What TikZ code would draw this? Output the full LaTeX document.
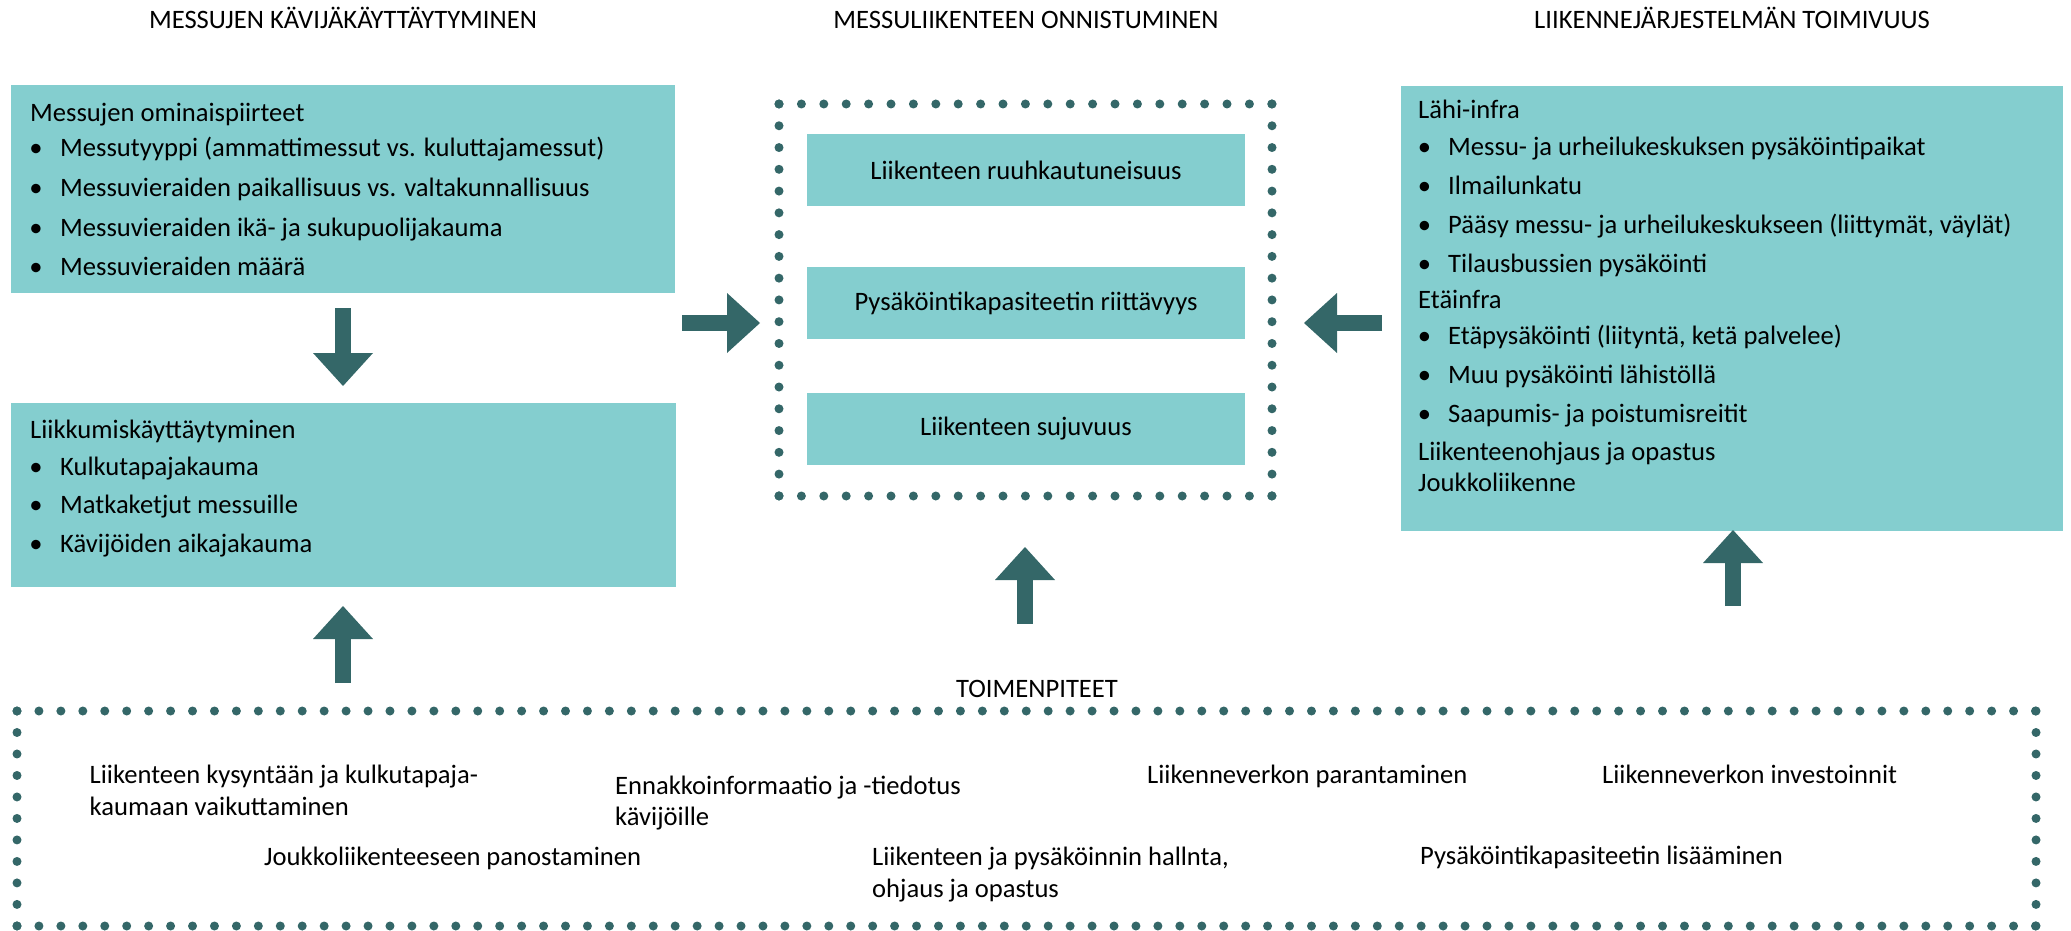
\documentclass[tikz,border=0pt]{standalone}
\usepackage{fontspec}
\setmainfont{Carlito}
\usetikzlibrary{arrows.meta}
\definecolor{boxfill}{RGB}{132,206,207}
\definecolor{dark}{RGB}{52,103,104}
\begin{document}
\begin{tikzpicture}[x=1pt,y=-1pt,
  tx/.style={font=\fontsize{26.6}{31}\selectfont, inner sep=0pt, anchor=base west},
  ttl/.style={font=\fontsize{26.6}{31}\selectfont, inner sep=0pt, anchor=base},
  bul/.style={font=\fontsize{26.6}{31}\selectfont, inner sep=0pt, anchor=base},
  box/.style={fill=boxfill, draw=none, inner sep=0pt, anchor=north west},
  cbox/.style={fill=boxfill, draw=none, inner sep=0pt, minimum width=438pt, minimum height=72pt, font=\fontsize{26.6}{31}\selectfont},
  blockarrow/.style={draw=dark, line width=16pt, -{Triangle[width=60pt,length=33pt,line width=0pt]}},
  dots/.style={draw=dark, line width=9pt, line cap=round}]
\useasboundingbox (0,0) rectangle (2071,931);

% titles
\node[ttl] (h1) at (343,29) {MESSUJEN KÄVIJÄKÄYTTÄYTYMINEN};
\node[ttl] (h2) at (1026,29) {MESSULIIKENTEEN ONNISTUMINEN};
\node[ttl] (h3) at (1732,29) {LIIKENNEJÄRJESTELMÄN TOIMIVUUS};
\node[ttl] (h4) at (1037,697) {TOIMENPITEET};

% boxes
\node[box, minimum width=664pt, minimum height=208pt] (b1) at (11,85) {};
\node[box, minimum width=665pt, minimum height=184pt] (b2) at (11,403) {};
\node[box, minimum width=662pt, minimum height=445pt] (b3) at (1401,86) {};

% box 1 text
\node[tx] (b1h) at (30,122) {Messujen ominaispiirteet};
\node[bul] (b1d1) at (36,157) {•};   \node[tx] (b1t1) at (60,157) {Messutyyppi (ammattimessut vs. kuluttajamessut)};
\node[bul] (b1d2) at (36,196.5) {•}; \node[tx] (b1t2) at (60,196.5) {Messuvieraiden paikallisuus vs. valtakunnallisuus};
\node[bul] (b1d3) at (36,236) {•};   \node[tx] (b1t3) at (60,236) {Messuvieraiden ikä- ja sukupuolijakauma};
\node[bul] (b1d4) at (36,275.5) {•}; \node[tx] (b1t4) at (60,275.5) {Messuvieraiden määrä};

% box 2 text
\node[tx] (b2h) at (30,438.5) {Liikkumiskäyttäytyminen};
\node[bul] (b2d1) at (36,475) {•};   \node[tx] (b2t1) at (60,475) {Kulkutapajakauma};
\node[bul] (b2d2) at (36,513.5) {•}; \node[tx] (b2t2) at (60,513.5) {Matkaketjut messuille};
\node[bul] (b2d3) at (36,552.5) {•}; \node[tx] (b2t3) at (60,552.5) {Kävijöiden aikajakauma};

% box 3 text
\node[tx] (b3h1) at (1418,118) {Lähi-infra};
\node[bul] (b3d1) at (1424.5,155) {•};   \node[tx] (b3t1) at (1448,155) {Messu- ja urheilukeskuksen pysäköintipaikat};
\node[bul] (b3d2) at (1424.5,194.5) {•}; \node[tx] (b3t2) at (1448,194.5) {Ilmailunkatu};
\node[bul] (b3d3) at (1424.5,233.5) {•}; \node[tx] (b3t3) at (1448,233.5) {Pääsy messu- ja urheilukeskukseen (liittymät, väylät)};
\node[bul] (b3d4) at (1424.5,272.5) {•}; \node[tx] (b3t4) at (1448,272.5) {Tilausbussien pysäköinti};
\node[tx] (b3h2) at (1418,308.5) {Etäinfra};
\node[bul] (b3d5) at (1424.5,344.5) {•}; \node[tx] (b3t5) at (1448,344.5) {Etäpysäköinti (liityntä, ketä palvelee)};
\node[bul] (b3d6) at (1424.5,383.5) {•}; \node[tx] (b3t6) at (1448,383.5) {Muu pysäköinti lähistöllä};
\node[bul] (b3d7) at (1424.5,422.5) {•}; \node[tx] (b3t7) at (1448,422.5) {Saapumis- ja poistumisreitit};
\node[tx] (b3h3) at (1418,460) {Liikenteenohjaus ja opastus};
\node[tx] (b3h4) at (1418,491) {Joukkoliikenne};

% centre boxes
\node[cbox] (c1) at (1026,170) {Liikenteen ruuhkautuneisuus};
\node[cbox] (c2) at (1026,303) {Pysäköintikapasiteetin riittävyys};
\node[cbox] (c3) at (1026,429) {Liikenteen sujuvuus};

% dotted frame, centre
\coordinate (m1) at (779,104);
\coordinate (m2) at (1272,104);
\coordinate (m3) at (1272,496);
\coordinate (m4) at (779,496);
\draw[dots, dash pattern=on 0pt off 22.40pt] (m1) -- (m2);
\draw[dots, dash pattern=on 0pt off 22.40pt] (m4) -- (m3);
\draw[dots, dash pattern=on 0pt off 21.77pt] (m1) -- (m4);
\draw[dots, dash pattern=on 0pt off 21.77pt] (m2) -- (m3);

% dotted frame, bottom
\coordinate (n1) at (17,711);
\coordinate (n2) at (2036,711);
\coordinate (n3) at (2036,926);
\coordinate (n4) at (17,926);
\draw[dots, dash pattern=on 0pt off 21.94pt] (n1) -- (n2);
\draw[dots, dash pattern=on 0pt off 21.94pt] (n4) -- (n3);
\draw[dots, dash pattern=on 0pt off 21.49pt] (n1) -- (n4);
\draw[dots, dash pattern=on 0pt off 21.49pt] (n2) -- (n3);

% bottom texts
\node[tx] (p1a) at (89.5,783) {Liikenteen kysyntään ja kulkutapaja-};
\node[tx] (p1b) at (89.5,815) {kaumaan vaikuttaminen};
\node[tx] (p2a) at (615,794) {Ennakkoinformaatio ja -tiedotus};
\node[tx] (p2b) at (615,825) {kävijöille};
\node[tx] (p3) at (1147,783) {Liikenneverkon parantaminen};
\node[tx] (p4) at (1602,783) {Liikenneverkon investoinnit};
\node[tx] (p5) at (264,865) {Joukkoliikenteeseen panostaminen};
\node[tx] (p6a) at (872,865) {Liikenteen ja pysäköinnin hallnta,};
\node[tx] (p6b) at (872,897) {ohjaus ja opastus};
\node[tx] (p7) at (1420,864) {Pysäköintikapasiteetin lisääminen};

% arrows
\coordinate (a1s) at (343,308);  \coordinate (a1e) at (343,386);
\coordinate (a2s) at (682,323);  \coordinate (a2e) at (760,323);
\coordinate (a3s) at (1382,323); \coordinate (a3e) at (1304,323);
\coordinate (a4s) at (1025,624); \coordinate (a4e) at (1025,547);
\coordinate (a5s) at (343,683);  \coordinate (a5e) at (343,606);
\coordinate (a6s) at (1733,606); \coordinate (a6e) at (1733,530);
\draw[blockarrow] (a1s) -- (a1e);
\draw[blockarrow] (a2s) -- (a2e);
\draw[blockarrow] (a3s) -- (a3e);
\draw[blockarrow] (a4s) -- (a4e);
\draw[blockarrow] (a5s) -- (a5e);
\draw[blockarrow] (a6s) -- (a6e);
\end{tikzpicture}
\end{document}
